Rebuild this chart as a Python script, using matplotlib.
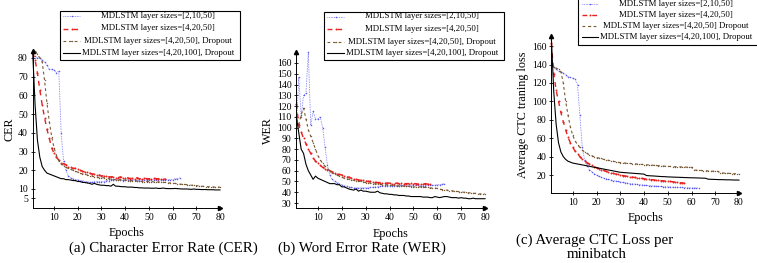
import matplotlib
matplotlib.use("Agg")
import matplotlib.pyplot as plt
from matplotlib.lines import Line2D
from matplotlib.patches import Rectangle

plt.rcParams['font.family'] = ['Liberation Serif', 'DejaVu Serif']

# ---------------- data ----------------
labels_ab = ["MDLSTM layer sizes=[2,10,50]",
             "MDLSTM layer sizes=[4,20,50]",
             "MDLSTM layer sizes=[4,20,50], Dropout",
             "MDLSTM layer sizes=[4,20,100], Dropout"]
labels_c = ["MDLSTM layer sizes=[2,10,50]",
            "MDLSTM layer sizes=[4,20,50]",
            "MDLSTM layer sizes=[4,20,50] Dropout",
            "MDLSTM layer sizes=[4,20,100], Dropout"]

x_ticks = [10, 20, 30, 40, 50, 60, 70, 80]
cer_ticks = [5, 10, 20, 30, 40, 50, 60, 70, 80]
wer_ticks = [30, 40, 50, 60, 70, 80, 90, 100, 110, 120, 130, 140, 150, 160]
ctc_ticks = [20, 40, 60, 80, 100, 120, 140, 160]

blue_cer = [80, 81, 80, 80, 79, 78, 76, 74, 74, 73.5,
            72, 73, 40, 25, 20, 17, 16, 15.5, 15, 15,
            14.5, 14.5, 14, 14, 13.5, 13.5, 14, 14, 14, 14,
            14, 14.5, 14.5, 15, 15, 15, 15, 15, 14.5, 15,
            15, 14.5, 15, 15, 14.5, 14.5, 15, 15, 15, 15,
            15, 15, 15, 15, 15, 15, 15, 15, 15, 15,
            15.5, 15.5, 16]
red_cer = [83, 79, 72, 63, 55, 48, 42, 37, 32, 29,
           27, 25.5, 24, 23.5, 23, 22, 21.5, 21, 21, 20.5,
           20, 19.5, 19, 19, 18.5, 18, 18, 17.5, 17.5, 17,
           17, 17, 16.5, 16.5, 16.5, 16, 16, 16.5, 16, 16,
           16, 15.5, 16, 15.5, 16, 15.5, 15.5, 16, 15.5, 15.5,
           15.5, 16, 15.5, 15.5, 15.5, 15.5, 15.5]
brown_cer = [82, 84, 82, 80, 78, 68, 56, 46, 38, 32,
             28, 25, 23.5, 22.5, 21.5, 21, 20.5, 20, 19.5, 19,
             18.5, 18, 18, 17.5, 17, 17, 16.5, 16.5, 16, 16,
             16, 15.5, 15.5, 15.5, 15, 15, 15, 15, 14.8, 14.8,
             14.5, 14.5, 14.5, 14.5, 14.2, 14.2, 14, 14, 14, 14,
             14, 13.8, 13.8, 13.8, 13.6, 13.5, 13.5, 13.3, 13.2, 13,
             13, 12.8, 12.6, 12.5, 12.5, 12.3, 12.2, 12, 12, 11.8,
             11.6, 11.5, 11.4, 11.3, 11.2, 11.2, 11.1, 11, 11, 11]
black_cer = [83, 55, 36, 27, 22, 20, 18.5, 18, 17.5, 17,
             16.5, 16, 15.5, 15.5, 15, 15, 14.8, 14.5, 14.5, 14,
             14, 13.5, 13.5, 13.2, 13, 12.5, 13, 12.5, 12.2, 12,
             12, 11.8, 11.8, 11.5, 12.5, 11.5, 11.5, 11.3, 11.2, 11.2,
             11, 11, 11, 10.8, 10.8, 10.6, 10.6, 10.5, 10.5, 10.5,
             10.4, 10.4, 10.5, 10.3, 10.3, 10.5, 10.3, 10.2, 10.2, 10.2,
             10.3, 10.2, 10.1, 10, 10, 10, 9.9, 9.8, 10, 9.8,
             9.8, 9.7, 9.7, 9.7, 9.6, 9.6, 9.6, 9.5, 9.5, 9.5]

blue_wer = [100, 147, 110, 130, 132, 170, 102, 115, 108, 108,
            110, 100, 82, 65, 56, 52, 50, 49, 48, 47,
            46, 45.5, 45, 44.5, 44, 44, 44, 44, 44, 44,
            44, 44.5, 44.5, 45, 45, 45.5, 45.5, 46, 46, 46,
            46, 46, 46, 46, 46.5, 46.5, 46, 46, 46, 46.5,
            46.5, 46.5, 46, 46, 46, 46.5, 46.5, 46.5, 46.5, 47,
            47, 47.5, 48]
red_wer = [122, 102, 96, 90, 85, 80, 76, 72, 69, 67,
           65, 63, 62, 61, 60, 59, 58, 57, 56.5, 56,
           55, 54.5, 54, 53, 52.5, 52, 51.5, 51, 51, 50.5,
           50, 50, 49.5, 49.5, 49, 49, 49, 48.5, 48.5, 48.5,
           48, 48, 48.5, 48, 48.5, 48, 48, 48, 48.5, 48,
           48, 47.5, 48, 47.5, 48, 47.5, 48]
brown_wer = [108, 103, 112, 118, 108, 98, 92, 86, 80, 74,
             70, 67, 64, 62, 60, 58, 57, 56, 55, 54,
             53, 52.5, 52, 51.5, 51, 50.5, 50, 50, 49.5, 49,
             49, 48.5, 48, 48, 47.5, 47.5, 47, 47, 47, 46.5,
             46.5, 46.5, 46, 46, 46, 45.5, 45.5, 45.5, 45, 45,
             45, 45, 45, 44.5, 44.5, 44.5, 44, 44, 44, 43.5,
             43, 42.5, 42, 42, 41.5, 41.5, 41, 41, 40.5, 40.5,
             40, 40, 39.5, 39.5, 39, 39, 38.5, 38.5, 38.5, 38.5]
black_wer = [110, 95, 80, 76, 66, 60, 56, 52, 55, 53,
             52, 51, 50, 49, 48, 48, 48, 47, 47, 45,
             45, 44, 43, 42.5, 42, 43, 41, 42, 41, 41,
             40.5, 40, 40, 40, 41, 39.5, 39, 38.5, 38.5, 38,
             38, 37.5, 37.5, 37, 37, 37, 36.5, 36.5, 36, 36,
             36, 36, 36, 35.5, 35.5, 35.5, 35, 35, 36, 35.5,
             35, 35.5, 36, 36, 35.5, 35, 35, 35, 34.5, 35,
             34.5, 34.5, 34, 34, 34.5, 34, 34, 34, 34, 34]

blue_ctc = [140, 137, 135, 133, 132, 131, 129, 127, 126, 125,
            124, 118, 85, 50, 36, 30, 26, 23.5, 21.5, 20,
            18.5, 17.5, 16.5, 16, 15.2, 14.6, 14, 13.5, 13, 12.5,
            12, 11.6, 11.2, 10.8, 10.5, 10.2, 9.9, 9.6, 9.3, 9,
            8.8, 8.6, 8.4, 8.2, 8, 7.8, 7.6, 7.5, 7.3, 7.2,
            7, 6.9, 6.8, 6.7, 6.6, 6.5, 6.4, 6.3, 6.2, 6.1,
            6, 6, 5.9]
red_ctc = [163, 130, 112, 100, 88, 78, 69, 61, 55, 50,
           46, 43, 40, 37.5, 35.5, 33.5, 32, 30.5, 29, 28,
           27, 26, 25, 24, 23.2, 22.5, 21.8, 21.2, 20.6, 20,
           19.5, 19, 18.6, 18.2, 17.8, 17.4, 17, 16.6, 16.3, 16,
           15.7, 15.4, 15.1, 14.8, 14.5, 14.2, 14, 13.7, 13.4, 13.2,
           13, 12.7, 12.4, 12.1, 11.8, 11.5, 11.2]
brown_ctc = [140, 137, 136, 135, 132, 120, 100, 85, 72, 63,
             57, 53, 50, 47, 45, 43.5, 42, 41, 40, 39,
             38.5, 38, 37, 36.5, 36, 35.5, 35, 34.5, 34, 33.5,
             33.2, 33, 32.8, 32.6, 32.4, 32.2, 32, 31.8, 31.6, 31.4,
             31.2, 31, 30.8, 30.6, 30.4, 30.2, 30, 29.8, 29.6, 29.4,
             29.3, 29.2, 29.1, 29, 28.9, 28.8, 28.7, 28.6, 28.5, 28.4,
             25.5, 25.3, 25.1, 25, 24.8, 24.6, 24.5, 24.3, 24.2, 24,
             24, 22.5, 22.3, 22.1, 22, 21.8, 21.6, 21.5, 21.3, 21]
black_ctc = [168, 110, 75, 55, 45, 40, 37, 35, 34, 33,
             32.5, 32, 31.5, 31, 30.5, 30, 29.5, 29, 28.5, 28,
             27.5, 27, 26.5, 26, 25.5, 25, 24.5, 24, 23.5, 23,
             22.8, 22.6, 22.4, 22.2, 22, 21.8, 21.6, 21.4, 21.2, 21,
             19.5, 19.3, 19.1, 19, 18.8, 18.6, 18.4, 18.3, 18.2, 18,
             17.9, 17.8, 17.7, 17.6, 17.5, 17.4, 17.3, 17.2, 17.1, 17,
             17, 16.9, 16.8, 16.7, 16.6, 16.5, 15.5, 15.4, 15.3, 15.2,
             15.1, 15, 15, 14.9, 14.8, 14.8, 14.7, 14.6, 14.6, 14.5]

# ---------------- styles ----------------
BLUE = "#5a5af0"
RED = "#e8201e"
BROWN = "#7a5a35"
styles = [
    dict(color=BLUE, ls=(0, (0.8, 1.2)), lw=0.6, marker='o', ms=1.1, mew=0),
    dict(color=RED, ls=(0, (3.5, 3.5)), lw=1.0, marker='o', ms=1.4, mew=0),
    dict(color=BROWN, ls=(0, (2.5, 2.5)), lw=0.8, marker='o', ms=1.0, mew=0),
    dict(color="black", ls='-', lw=0.8),
]

W, H = 757, 263
fig = plt.figure(figsize=(W / 100, H / 100), dpi=100)


def px_axes(x0, y_top, x1, y_bot):
    return fig.add_axes([x0 / W, 1 - y_bot / H, (x1 - x0) / W, (y_bot - y_top) / H])


def style_axes(ax, ylim, yticks, ylabel):
    ax.set_xlim(1, 80)
    ax.set_ylim(*ylim)
    ax.set_xticks(x_ticks)
    ax.set_yticks(yticks)
    for s in ['top', 'right']:
        ax.spines[s].set_visible(False)
    for s in ['left', 'bottom']:
        ax.spines[s].set_linewidth(0.7)
    ax.tick_params(direction='inout', length=3, width=0.6, labelsize=7, pad=2)
    ax.set_xlabel("Epochs", fontsize=8.7, labelpad=4)
    ax.set_ylabel(ylabel, fontsize=8.7, labelpad=2)
    ax.plot(1, 0, marker='>', color='black', ms=3, transform=ax.transAxes, clip_on=False)
    ax.plot(0, 1, marker='^', color='black', ms=3, transform=ax.transAxes, clip_on=False)


def draw_series(ax, series):
    for ys, st in zip(series, styles):
        xs = list(range(1, len(ys) + 1))
        ax.plot(xs, ys, clip_on=False, **st)


def legend_box(x0, y0, x1, y1, rows, labels, hx0, hx1, text_cx):
    fig.patches.append(Rectangle((x0 / W, 1 - y1 / H), (x1 - x0) / W, (y1 - y0) / H,
                                 transform=fig.transFigure, facecolor='white',
                                 edgecolor='black', lw=0.8, zorder=10))
    for ry, lab, st in zip(rows, labels, styles):
        st2 = dict(st)
        if 'marker' in st2:
            st2['markevery'] = [1]
        ln = Line2D([hx0 / W, (hx0 + hx1) / 2 / W, hx1 / W], [1 - ry / H] * 3,
                    transform=fig.transFigure, zorder=11, **st2)
        fig.lines.append(ln)
        fig.text(text_cx / W, 1 - ry / H, lab, ha='center', va='center',
                 fontsize=6.3, zorder=12)


# (a) CER
ax1 = px_axes(32.7, 50.5, 220, 207.7)
draw_series(ax1, [blue_cer, red_cer, brown_cer, black_cer])
style_axes(ax1, (0, 84), cer_ticks, "CER")

# (b) WER
ax2 = px_axes(296.4, 52.2, 485, 208.4)
draw_series(ax2, [blue_wer, red_wer, brown_wer, black_wer])
style_axes(ax2, (25, 170), wer_ticks, "WER")

# (c) CTC loss
ax3 = px_axes(551.4, 36, 739, 193)
draw_series(ax3, [blue_ctc, red_ctc, brown_ctc, black_ctc])
style_axes(ax3, (0.5, 171), ctc_ticks, "Average CTC traning loss")

legend_box(60, 11, 240, 60, [16, 28.5, 41, 53], labels_ab, 63, 80, 158)
legend_box(324, 12, 504, 60, [16.5, 29, 41.5, 53], labels_ab, 327, 344, 422)
legend_box(578, -5, 770, 45, [4, 15, 26, 37], labels_c, 582, 598, 676)

fig.text(163 / W, 1 - 248 / H, "(a) Character Error Rate (CER)", ha='center', va='center', fontsize=10.8)
fig.text(362 / W, 1 - 248 / H, "(b) Word Error Rate (WER)", ha='center', va='center', fontsize=10.8)
fig.text(595 / W, 1 - 240 / H, "(c) Average CTC Loss per", ha='center', va='center', fontsize=10.8)
fig.text(597 / W, 1 - 255 / H, "minibatch", ha='center', va='center', fontsize=10.8)

fig.savefig("out.png", dpi=100)
